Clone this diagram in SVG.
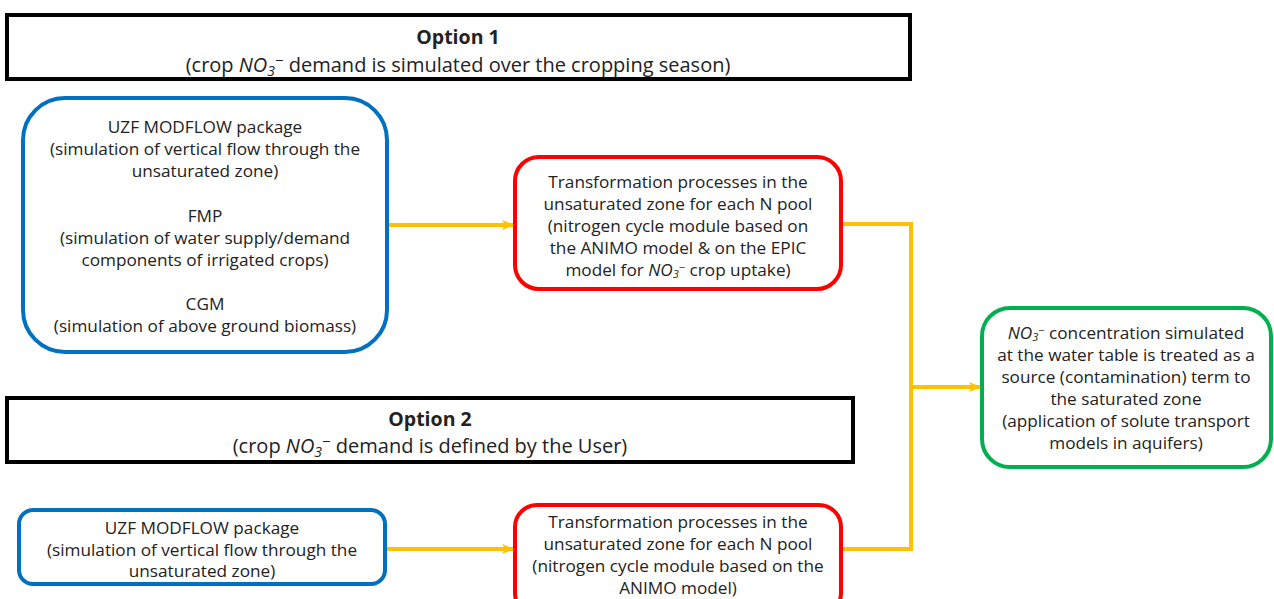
<svg xmlns="http://www.w3.org/2000/svg" width="1274" height="599" viewBox="0 0 1274 599">
<defs>
<marker id="arr" viewBox="0 0 12 12" refX="11" refY="6" markerWidth="12" markerHeight="12" markerUnits="userSpaceOnUse" orient="auto">
<path d="M0,1 L12,6 L0,11 L3,6 Z" fill="#FFC000"/>
</marker>
<style>
text{font-family:"Open Sans","Noto Sans","DejaVu Sans",sans-serif;font-size:17.2px;fill:#222;text-anchor:middle}
.t{font-size:20px}
.tb{font-size:19.5px;font-weight:bold}
.title{fill:#fff;stroke:#000;stroke-width:4}
.blue{fill:#fff;stroke:#0070C0;stroke-width:4}
.red{fill:#fff;stroke:#FF0000;stroke-width:4}
.green{fill:#fff;stroke:#00B050;stroke-width:4}
.c{fill:none;stroke:#FFC000;stroke-width:4}
.i{font-style:italic}
</style>
</defs>
<g id="option1">
<rect class="title" x="7" y="15" width="903" height="64"/>
<text class="tb" x="458" y="44">Option 1</text>
<text class="t" x="458" y="72">(crop <tspan class="i">NO</tspan><tspan class="i" font-size="14" dy="4">3</tspan><tspan font-size="15" dy="-10">−</tspan><tspan dy="6"> demand is simulated over the cropping season)</tspan></text>
</g>
<g id="option2">
<rect class="title" x="7" y="398" width="846" height="64"/>
<text class="tb" x="430" y="426">Option 2</text>
<text class="t" x="430" y="453">(crop <tspan class="i">NO</tspan><tspan class="i" font-size="14" dy="4">3</tspan><tspan font-size="15" dy="-10">−</tspan><tspan dy="6"> demand is defined by the User)</tspan></text>
</g>
<g id="uzf1">
<rect class="blue" x="23" y="98" width="364" height="254" rx="42"/>
<text x="205" y="133">UZF MODFLOW package</text>
<text x="205" y="155">(simulation of vertical flow through the</text>
<text x="205" y="177">unsaturated zone)</text>
<text x="205" y="222">FMP</text>
<text x="205" y="244">(simulation of water supply/demand</text>
<text x="205" y="266">components of irrigated crops)</text>
<text x="205" y="310">CGM</text>
<text x="205" y="332">(simulation of above ground biomass)</text>
</g>
<g id="trans1">
<rect class="red" x="515" y="157" width="326" height="132" rx="24"/>
<text x="678" y="188">Transformation processes in the</text>
<text x="678" y="210">unsaturated zone for each N pool</text>
<text x="678" y="232">(nitrogen cycle module based on</text>
<text x="678" y="254">the ANIMO model &amp; on the EPIC</text>
<text x="678" y="276">model for <tspan class="i">NO</tspan><tspan class="i" font-size="11" dy="2">3</tspan><tspan font-size="11" dy="-7">−</tspan><tspan dy="5"> crop uptake)</tspan></text>
</g>
<g id="result">
<rect class="green" x="982" y="308" width="289" height="159" rx="28"/>
<text x="1126" y="339"><tspan class="i">NO</tspan><tspan class="i" font-size="11" dy="2">3</tspan><tspan font-size="11" dy="-7">−</tspan><tspan dy="5"> concentration simulated</tspan></text>
<text x="1126" y="361">at the water table is treated as a</text>
<text x="1126" y="383">source (contamination) term to</text>
<text x="1126" y="405">the saturated zone</text>
<text x="1126" y="427">(application of solute transport</text>
<text x="1126" y="449">models in aquifers)</text>
</g>
<g id="uzf2">
<rect class="blue" x="19" y="510" width="366" height="74" rx="14"/>
<text x="202" y="534">UZF MODFLOW package</text>
<text x="202" y="556">(simulation of vertical flow through the</text>
<text x="202" y="577">unsaturated zone)</text>
</g>
<g id="trans2">
<rect class="red" x="515" y="505" width="326" height="110" rx="22"/>
<text x="678" y="528">Transformation processes in the</text>
<text x="678" y="550">unsaturated zone for each N pool</text>
<text x="678" y="572">(nitrogen cycle module based on the</text>
<text x="678" y="594">ANIMO model)</text>
</g>
<g id="connectors">
<path class="c" d="M389,225 H513" marker-end="url(#arr)"/>
<path class="c" d="M387,549 H513" marker-end="url(#arr)"/>
<path class="c" d="M843,224 H911 V549 H843"/>
<path class="c" d="M911,387 H980" marker-end="url(#arr)"/>
</g>
</svg>
